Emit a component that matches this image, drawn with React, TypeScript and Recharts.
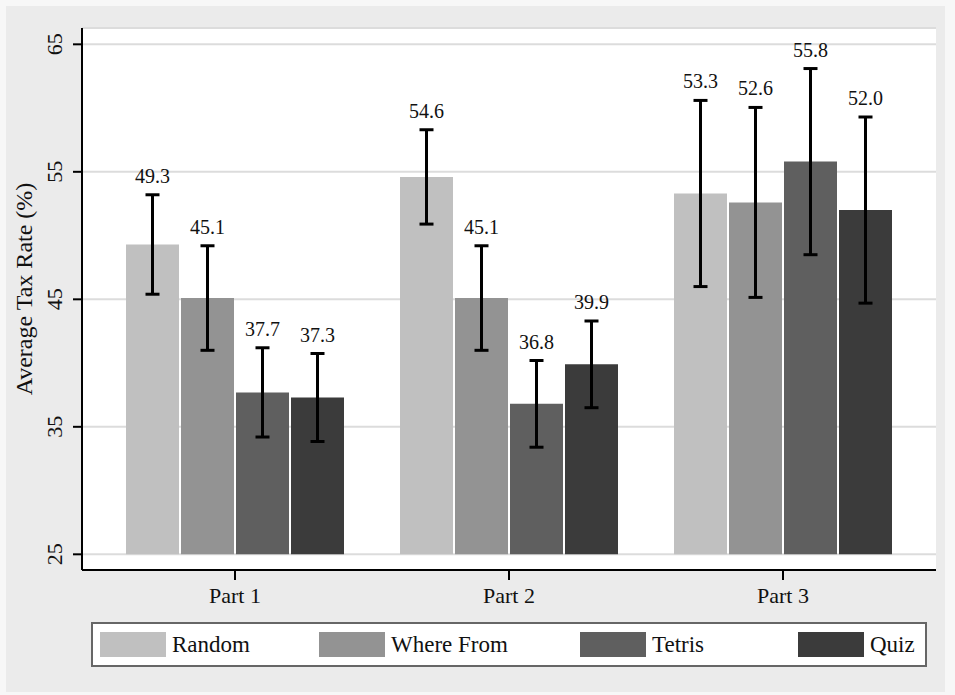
import React from 'react';
import { BarChart, Bar, XAxis, YAxis, CartesianGrid, ErrorBar, LabelList } from 'recharts';

const PARTS = ['Part 1', 'Part 2', 'Part 3'];

const RANDOM = [49.3, 54.6, 53.3];
const RANDOM_ERR = [3.9, 3.7, 7.3];
const WHERE_FROM = [45.1, 45.1, 52.6];
const WHERE_FROM_ERR = [4.1, 4.1, 7.45];
const TETRIS = [37.7, 36.8, 55.8];
const TETRIS_ERR = [3.5, 3.4, 7.3];
const QUIZ = [37.3, 39.9, 52.0];
const QUIZ_ERR = [3.45, 3.4, 7.3];

const Y_TICKS = [25, 35, 45, 55, 65];
const BAR_BASE = 25;

const FONT = '"Liberation Serif"';

// chart geometry (plot area 82..936 x 28..570)
const W = 955;
const H = 695;
const Y_MIN = 23.77;
const Y_MAX = 66.28;
const PLOT_TOP = 28;
const PLOT_BOTTOM = 570;
const PX_PER_UNIT = (PLOT_BOTTOM - PLOT_TOP) / (Y_MAX - Y_MIN);

const SERIES = [
  { key: 'random', name: 'Random', values: RANDOM, errors: RANDOM_ERR, color: '#c0c0c0' },
  { key: 'whereFrom', name: 'Where From', values: WHERE_FROM, errors: WHERE_FROM_ERR, color: '#939393' },
  { key: 'tetris', name: 'Tetris', values: TETRIS, errors: TETRIS_ERR, color: '#5f5f5f' },
  { key: 'quiz', name: 'Quiz', values: QUIZ, errors: QUIZ_ERR, color: '#3b3b3b' },
];

// legend slot offsets inside the box
const LEGEND_LEFT = [7, 226, 487, 705];

const rows = PARTS.map((part, i) => {
  const row: Record<string, any> = { part };
  SERIES.forEach(s => {
    row[s.key] = [BAR_BASE, s.values[i]];
    row[s.key + 'Err'] = s.errors[i];
  });
  return row;
});

function makeValueLabel(values: number[], errors: number[]) {
  return (props: any) => {
    const { x, y, width, index } = props;
    const top = y - errors[index] * PX_PER_UNIT;
    return (
      <text
        x={x + width / 2}
        y={top - 12}
        textAnchor="middle"
        fontSize={20}
        style={{ fontFamily: FONT }}
        fill="#111"
      >
        {values[index].toFixed(1)}
      </text>
    );
  };
}

const YTick = (props: any) => {
  const { x, y, payload } = props;
  const bx = x - 9;
  return (
    <text
      x={bx}
      y={y}
      transform={`rotate(-90, ${bx}, ${y})`}
      textAnchor="middle"
      fontSize={22}
      style={{ fontFamily: FONT }}
      fill="#111"
    >
      {payload.value}
    </text>
  );
};

const YTitle = (props: any) => {
  const { viewBox } = props;
  const cx = 32;
  const cy = viewBox.y + viewBox.height / 2 - 10;
  return (
    <text
      x={cx}
      y={cy}
      transform={`rotate(-90, ${cx}, ${cy})`}
      textAnchor="middle"
      fontSize={24}
      style={{ fontFamily: FONT }}
      fill="#111"
    >
      Average Tax Rate (%)
    </text>
  );
};

export default function App() {
  return (
    <div style={{ position: 'fixed', left: 0, top: 0, width: W, height: H, background: '#f7f7f7', fontFamily: FONT }}>
      <div style={{ position: 'absolute', left: 6, top: 6, width: 939, height: 686, background: '#ebebeb' }} />
      <div style={{ position: 'absolute', left: 0, top: 0 }}>
        <BarChart
          width={W}
          height={H}
          data={rows}
          margin={{ top: PLOT_TOP, right: 19, bottom: 95, left: 0 }}
          barCategoryGap={28}
          barGap={2}
          style={{ fontFamily: FONT }}
        >
          <CartesianGrid vertical={false} fill="#ffffff" stroke="#dcdcdc" strokeWidth={2} />
          <XAxis
            dataKey="part"
            height={30}
            padding={{ left: 16, right: 16 }}
            tickSize={10}
            tickMargin={7}
            axisLine={{ stroke: '#000', strokeWidth: 2 }}
            tickLine={{ stroke: '#000', strokeWidth: 2 }}
            tick={{ fontSize: 22, fill: '#111', style: { fontFamily: FONT } }}
          />
          <YAxis
            type="number"
            width={82}
            domain={[Y_MIN, Y_MAX]}
            ticks={Y_TICKS}
            allowDataOverflow
            tickSize={9}
            axisLine={{ stroke: '#000', strokeWidth: 2 }}
            tickLine={{ stroke: '#000', strokeWidth: 2 }}
            tick={<YTick />}
            label={<YTitle />}
          />
          {SERIES.map(s => (
            <Bar key={s.key} dataKey={s.key} name={s.name} fill={s.color} isAnimationActive={false}>
              <ErrorBar
                dataKey={s.key + 'Err'}
                width={7}
                strokeWidth={3}
                stroke="#000"
                direction="y"
                isAnimationActive={false}
              />
              <LabelList dataKey={s.key} content={makeValueLabel(s.values, s.errors)} />
            </Bar>
          ))}
        </BarChart>
      </div>
      <div
        style={{
          position: 'absolute',
          left: 91,
          top: 622,
          width: 832,
          height: 41,
          background: '#fff',
          border: '2px solid #666',
        }}
      >
        {SERIES.map((s, i) => (
          <div
            key={s.key}
            style={{
              position: 'absolute',
              left: LEGEND_LEFT[i],
              top: 8,
              height: 25,
              display: 'flex',
              alignItems: 'center',
              whiteSpace: 'nowrap',
            }}
          >
            <div style={{ width: 66, height: 25, background: s.color }} />
            <span style={{ marginLeft: 6, fontFamily: FONT, fontSize: 23, color: '#111', lineHeight: '25px' }}>
              {s.name}
            </span>
          </div>
        ))}
      </div>
    </div>
  );
}
